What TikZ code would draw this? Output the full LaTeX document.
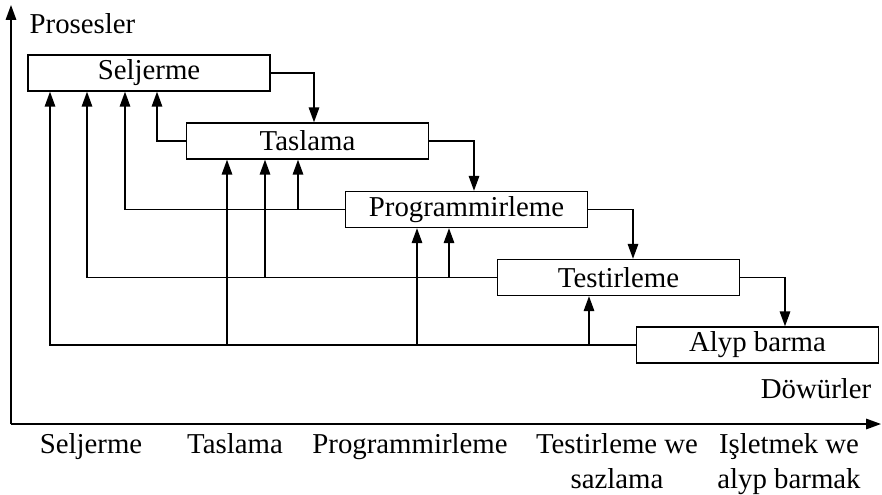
\documentclass[tikz,border=0pt]{standalone}
\usepackage{fontspec}
\setmainfont{Liberation Serif}
\usetikzlibrary{arrows.meta}
\begin{document}
\begin{tikzpicture}[x=0.02cm,y=-0.02cm,line width=0.8pt,
    >={Triangle[length=8.5pt,width=6pt]},
    stage/.style={draw,minimum width=4.84cm,minimum height=0.72cm,inner sep=0pt},
    lbl/.style={inner sep=0pt}]
    \fontsize{16.4}{19.6}\selectfont
    \useasboundingbox (0,0) rectangle (882,494);

    % axes
    \coordinate (O) at (11,424);
    \draw[->] (O) -- (11,5);
    \draw[->] (O) -- (881,424);
    \node[lbl,anchor=base west] (Procs) at (29,33) {Prosesler};
    \node[lbl,anchor=base east] (Periods) at (872,398) {Döwürler};

    % stages
    \node[stage] (Selj) at (149,73) {Seljerme};
    \node[stage] (Tasl) at (307.5,141) {Taslama};
    \node[stage] (Prog) at (466.5,209.5) {Programmirleme};
    \node[stage] (Test) at (618.5,277.5) {Testirleme};
    \node[stage] (Alyp) at (757.5,345) {Alyp barma};

    % forward
    \draw[->] (Selj.east) -| (314,0 |- Tasl.north);
    \draw[->] (Tasl.east) -| (474,0 |- Prog.north);
    \draw[->] (Prog.east) -| (633,0 |- Test.north);
    \draw[->] (Test.east) -| (785,0 |- Alyp.north);

    % feedback
    \draw[->] (Tasl.west) -| (157,0 |- Selj.south);

    \draw[->] (Prog.west) -| (125,0 |- Selj.south);
    \draw[->] (298,0 |- Prog.west) -- (298,0 |- Tasl.south);

    \draw[->] (Test.west) -| (87,0 |- Selj.south);
    \draw[->] (265,0 |- Test.west) -- (265,0 |- Tasl.south);
    \draw[->] (449,0 |- Test.west) -- (449,0 |- Prog.south);

    \draw[->] (Alyp.west) -| (50,0 |- Selj.south);
    \draw[->] (227,0 |- Alyp.west) -- (227,0 |- Tasl.south);
    \draw[->] (417,0 |- Alyp.west) -- (417,0 |- Prog.south);
    \draw[->] (589,0 |- Alyp.west) -- (589,0 |- Test.south);

    % periods
    \node[lbl,anchor=north,align=center] (PSelj) at (91,433) {Seljerme};
    \node[lbl,anchor=north,align=center] (PTasl) at (235,433) {Taslama};
    \node[lbl,anchor=north,align=center] (PProg) at (410,433) {Programmirleme};
    \node[lbl,anchor=north,align=center] (PTest) at (617,433) {Testirleme we\\sazlama};
    \node[lbl,anchor=north,align=center] (PIsl) at (789,433) {Işletmek we\\alyp barmak};
\end{tikzpicture}
\end{document}
